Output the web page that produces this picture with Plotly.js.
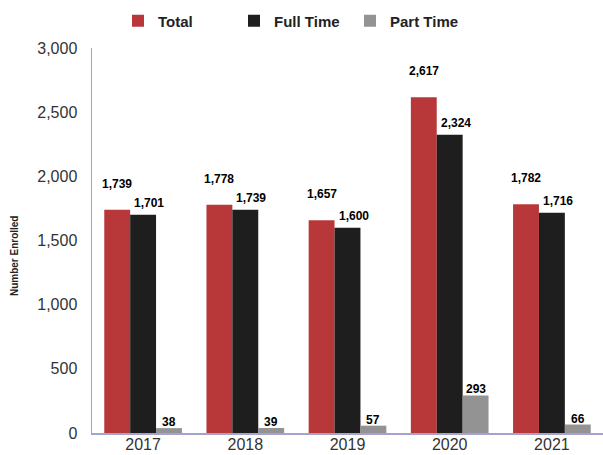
<!DOCTYPE html>
<html>
<head>
<meta charset="utf-8">
<script src="https://cdn.plot.ly/plotly-3.0.1.min.js"></script>
<style>html,body{margin:0;padding:0;background:#fff}#chart{width:603px;height:455px}</style>
</head>
<body>
<div id="chart"></div>
<script>
const years = ['2017', '2018', '2019', '2020', '2021'];
const total = [1739, 1778, 1657, 2617, 1782];
const fullTime = [1701, 1739, 1600, 2324, 1716];
const partTime = [38, 39, 57, 293, 66];
const seriesNames = ['Total', 'Full Time', 'Part Time'];
const seriesColors = ['#b8383a', '#1e1e1e', '#939393'];
const seriesData = [total, fullTime, partTime];

const bargap = 0.24;
const barW = (1 - bargap) / 3;
const labelShift = [17, 3, -3];
const labelXOff = [0, 0.06, 0];

const traces = seriesData.map((vals, i) => ({
  type: 'bar',
  name: seriesNames[i],
  x: years,
  y: vals,
  marker: {color: seriesColors[i]},
  hoverinfo: 'skip'
}));

const annotations = [];
seriesData.forEach((vals, i) => {
  vals.forEach((v, j) => {
    annotations.push({
      xref: 'x', yref: 'y',
      x: j + (i - 1) * barW + labelXOff[i],
      y: v,
      text: v.toLocaleString('en-US'),
      showarrow: false,
      yanchor: 'bottom',
      yshift: labelShift[i],
      font: {family: 'Liberation Sans, Arial, sans-serif', size: 12, color: '#000', weight: 'bold'}
    });
  });
});
annotations.push({
  xref: 'paper', yref: 'paper', x: -0.165, y: 0.46,
  text: 'Number Enrolled', textangle: -90, showarrow: false,
  font: {family: 'Liberation Sans, Arial, sans-serif', size: 10, color: '#222', weight: 'bold'}
});

const layout = {
  width: 603, height: 455,
  margin: {l: 92, r: 0, t: 48, b: 22},
  paper_bgcolor: '#fff', plot_bgcolor: '#fff',
  barmode: 'group', bargap: bargap, bargroupgap: 0,
  showlegend: true,
  legend: {
    orientation: 'h', xref: 'container', yref: 'container',
    x: 118 / 603, xanchor: 'left', y: 1 - 21 / 455, yanchor: 'middle',
    entrywidth: 71, itemwidth: 30,
    font: {family: 'Liberation Sans, Arial, sans-serif', size: 15, color: '#222', weight: 'bold'}
  },
  xaxis: {
    type: 'category', range: [-0.5, 4.5],
    showline: true, linecolor: '#a3a3cc', linewidth: 1.5,
    showgrid: false, zeroline: false, ticks: '',
    ticklabelstandoff: -4,
    tickfont: {family: 'Liberation Sans, Arial, sans-serif', size: 16, color: '#333'},
    automargin: false
  },
  yaxis: {
    range: [0, 3000], dtick: 500, tickformat: ',d',
    showline: true, linecolor: '#a3a3cc', linewidth: 1.5,
    showgrid: false, zeroline: false, ticks: '',
    ticklabelstandoff: 10,
    tickfont: {family: 'Liberation Sans, Arial, sans-serif', size: 16, color: '#333'},
    automargin: false
  },
  annotations: annotations
};

Plotly.newPlot('chart', traces, layout, {displayModeBar: false, staticPlot: true});
</script>
</body>
</html>
